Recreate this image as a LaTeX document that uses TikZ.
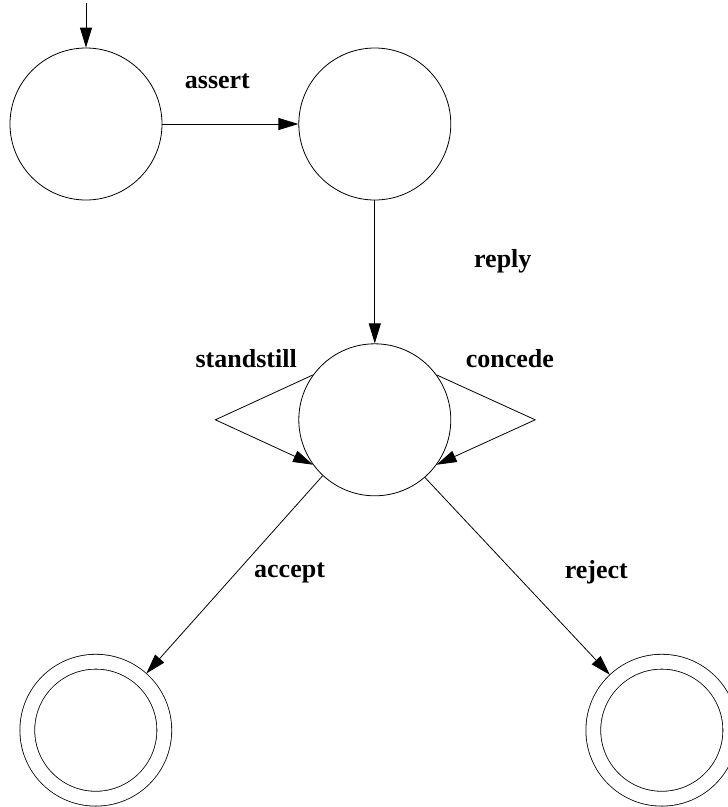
\documentclass[tikz,border=0pt]{standalone}
\usepackage{fontspec}
\setmainfont{Liberation Serif}
\usetikzlibrary{positioning, arrows.meta}

\begin{document}
\begin{tikzpicture}[line width=0.8pt, >={Triangle[length=20pt,width=12pt]},
  state/.style={circle, draw, minimum size=152pt, inner sep=0pt},
  final/.style={circle, draw, double, double distance=14pt, minimum size=137pt, inner sep=0pt, outer sep=7.5pt},
  lbl/.style={anchor=base, inner sep=0pt, font=\fontsize{26}{30}\selectfont\bfseries}]
\useasboundingbox (0,0) rectangle (728pt,-807pt);
\node[state] (start) at (86pt,-124pt) {};
\node[state, right=136pt of start] (asserted) {};
\node[state, below=143pt of asserted] (replied) {};
\node[final, below=158pt of replied, xshift=-279pt] (accepted) {};
\node[final, below=158pt of replied, xshift=287pt] (rejected) {};
\coordinate[above=45pt of start] (init);
\coordinate[left=83pt of replied] (loopleft);
\coordinate[right=84pt of replied] (loopright);

\draw[->] (init) -- (start);
\draw[->] (start) -- node[lbl, xshift=-13pt, yshift=36pt] {assert} (asserted);
\draw[->] (asserted) -- node[lbl, xshift=128pt, yshift=4pt] {reply} (replied);
\draw[->] (replied.144) -- node[lbl, xshift=-18pt, yshift=29.5pt] {standstill} (loopleft) -- (replied.216);
\draw[->] (replied.36) -- node[lbl, xshift=24pt, yshift=29.5pt] {concede} (loopright) -- (replied.-36);
\draw[->] (replied.227) -- node[lbl, xshift=55pt, yshift=-3pt] {accept} (accepted);
\draw[->] (replied.-49) -- node[lbl, xshift=79pt, yshift=-2pt] {reject} (rejected);
\end{tikzpicture}
\end{document}
